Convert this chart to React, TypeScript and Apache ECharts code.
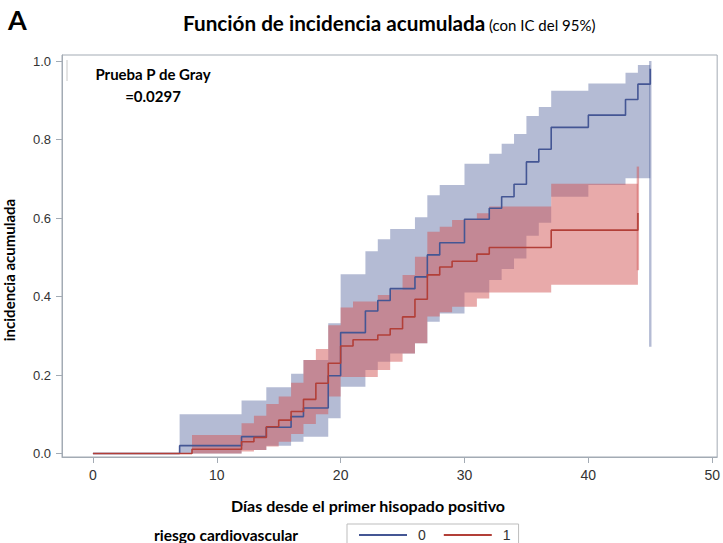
import React, { useEffect, useRef } from "react";
import * as echarts from "echarts";

// ---- axis ticks ----
const xTicks = [0, 10, 20, 30, 40, 50];
const yTicks = [0, 0.2, 0.4, 0.6, 0.8, 1.0];

// ---- group 0 (riesgo cardiovascular = 0) : cumulative incidence ----
const g0Days = [0, 7, 12, 14, 16, 17, 19, 20, 22, 23, 24, 26, 27, 28, 30, 32, 33, 34, 35, 36, 37, 40, 43, 44, 45];
const g0Cif = [0, 0.02, 0.043, 0.067, 0.094, 0.116, 0.198, 0.308, 0.363, 0.39, 0.42, 0.45, 0.506, 0.537, 0.597, 0.625, 0.654, 0.686, 0.743, 0.775, 0.831, 0.862, 0.902, 0.941, 0.98];
// 95% CI of group 0
const g0CiDays = [7, 12, 14, 16, 17, 19, 20, 22, 23, 24, 26, 27, 28, 30, 32, 33, 34, 35, 36, 37, 40, 43, 44];
const g0Upper = [0.1, 0.135, 0.169, 0.203, 0.238, 0.332, 0.457, 0.515, 0.546, 0.572, 0.602, 0.658, 0.684, 0.738, 0.764, 0.789, 0.814, 0.86, 0.883, 0.924, 0.943, 0.97, 0.99];
const g0Lower = [0, 0.009, 0.02, 0.03, 0.043, 0.09, 0.17, 0.213, 0.234, 0.255, 0.281, 0.336, 0.357, 0.41, 0.442, 0.47, 0.497, 0.555, 0.588, 0.654, 0.684, 0.701, 0.701];
const g0EndDay = 45;
const g0EndCi = [0.272, 1.0];

// ---- group 1 (riesgo cardiovascular = 1) ----
const g1Days = [0, 8, 12, 13, 14, 15, 16, 17, 18, 19, 20, 21, 23, 24, 25, 26, 27, 28, 29, 31, 32, 37, 44];
const g1Cif = [0, 0.011, 0.03, 0.041, 0.068, 0.085, 0.107, 0.138, 0.179, 0.23, 0.274, 0.29, 0.302, 0.318, 0.348, 0.393, 0.455, 0.475, 0.49, 0.508, 0.525, 0.569, 0.613];
const g1CiDays = [8, 12, 13, 14, 15, 16, 17, 18, 19, 20, 21, 23, 24, 25, 26, 27, 28, 29, 31, 32, 37];
const g1Upper = [0.047, 0.077, 0.096, 0.126, 0.145, 0.18, 0.238, 0.266, 0.327, 0.372, 0.387, 0.404, 0.417, 0.455, 0.501, 0.565, 0.578, 0.595, 0.612, 0.629, 0.687];
const g1Lower = [0, 0.005, 0.009, 0.018, 0.03, 0.05, 0.075, 0.1, 0.145, 0.195, 0.195, 0.213, 0.234, 0.255, 0.281, 0.349, 0.36, 0.374, 0.395, 0.41, 0.43];
const g1EndDay = 44;
const g1EndCi = [0.467, 0.731];

const groupNames = ["0", "1"];

const BLUE = "#445694";
const RED = "#B23F38";
const BLUE_BAND = "rgba(68,86,148,0.4)";
const RED_BAND = "rgba(210,85,85,0.5)";
const FRAME = "#A3ABB4";

function bandSeries(days: number[], upper: number[], lower: number[], endDay: number, endCi: number[], fill: string) {
  return {
    type: "custom",
    silent: true,
    z: 1,
    data: [[days[0], lower[0]]],
    renderItem: (_params: any, api: any) => {
      const pts: number[][] = [];
      for (let i = 0; i < days.length; i++) {
        const t1 = i + 1 < days.length ? days[i + 1] : endDay;
        pts.push(api.coord([days[i], upper[i]]), api.coord([t1, upper[i]]));
      }
      for (let i = days.length - 1; i >= 0; i--) {
        const t1 = i + 1 < days.length ? days[i + 1] : endDay;
        pts.push(api.coord([t1, lower[i]]), api.coord([days[i], lower[i]]));
      }
      const a = api.coord([endDay, endCi[0]]);
      const b = api.coord([endDay, endCi[1]]);
      return {
        type: "group",
        children: [
          { type: "polygon", shape: { points: pts }, style: { fill } },
          { type: "rect", shape: { x: a[0] - 1.2, y: b[1], width: 2.4, height: a[1] - b[1] }, style: { fill } },
        ],
      };
    },
  };
}

export default function App() {
  const ref = useRef<HTMLDivElement>(null);
  useEffect(() => {
    const chart = echarts.init(ref.current!, null, { renderer: "svg" });
    const tickFont = { fontFamily: "Liberation Sans, Arial, sans-serif", fontSize: 13, color: "#333" };
    const option: any = {
      animation: false,
      backgroundColor: "#fff",
      grid: { left: 62, right: 4, top: 55, bottom: 86, show: true, borderColor: FRAME, borderWidth: 1, backgroundColor: "transparent" },
      xAxis: {
        type: "value",
        min: -2.496,
        max: 50.4,
        axisLine: { show: true, onZero: false, lineStyle: { color: FRAME } },
        axisTick: { show: true, length: 6, lineStyle: { color: FRAME }, customValues: xTicks },
        axisLabel: { ...tickFont, fontSize: 14, margin: 11, customValues: xTicks, formatter: (v: number) => String(v) },
        splitLine: { show: false },
      },
      yAxis: {
        type: "value",
        min: -0.0089,
        max: 1.0153,
        axisLine: { show: true, onZero: false, lineStyle: { color: FRAME } },
        axisTick: { show: true, length: 6, lineStyle: { color: FRAME }, customValues: yTicks },
        axisLabel: { ...tickFont, margin: 11, customValues: yTicks, formatter: (v: number) => v.toFixed(1) },
        splitLine: { show: false },
      },
      legend: {
        data: groupNames,
        left: 347,
        top: 524,
        icon: "rect",
        itemWidth: 48,
        itemHeight: 2,
        itemGap: 18,
        padding: [4, 8, 10, 12],
        borderColor: "#BDBDBD",
        borderWidth: 1,
        textStyle: { fontFamily: "Liberation Sans, Arial, sans-serif", fontSize: 14, color: "#333", padding: [0, 0, 0, 6] },
      },
      series: [
        bandSeries(g0CiDays, g0Upper, g0Lower, g0EndDay, g0EndCi, BLUE_BAND),
        bandSeries(g1CiDays, g1Upper, g1Lower, g1EndDay, g1EndCi, RED_BAND),
        {
          name: groupNames[0],
          type: "line",
          step: "end",
          z: 3,
          showSymbol: false,
          color: BLUE,
          lineStyle: { color: BLUE, width: 1.6 },
          data: g0Days.map((d, i) => [d, g0Cif[i]]),
        },
        {
          name: groupNames[1],
          type: "line",
          step: "end",
          z: 4,
          showSymbol: false,
          color: RED,
          lineStyle: { color: RED, width: 1.6 },
          data: g1Days.map((d, i) => [d, g1Cif[i]]),
        },
      ],
      graphic: [
        { type: "text", left: 8, top: 6, style: { text: "A", font: "bold 27px Lato, sans-serif", fill: "#000" } },
        { type: "text", x: 183, y: 33, style: { text: "Función de incidencia acumulada", font: "bold 20.7px Lato, sans-serif", fill: "#000", textVerticalAlign: "bottom" } },
        { type: "text", x: 489, y: 32, style: { text: "(con IC del 95%)", font: "15px Lato, sans-serif", fill: "#000", textVerticalAlign: "bottom" } },
        { type: "line", shape: { x1: 67, y1: 60, x2: 67, y2: 81 }, style: { stroke: "#C8C8C8", lineWidth: 1 } },
        { type: "text", x: 153, y: 85, style: { text: "Prueba P de Gray\n=0.0297", font: "bold 15px Lato, sans-serif", fill: "#000", textAlign: "center", textVerticalAlign: "middle", lineHeight: 22 } },
        { type: "text", x: 9, y: 270, rotation: Math.PI / 2, style: { text: "incidencia acumulada", font: "bold 15px Lato, sans-serif", fill: "#000", textAlign: "center", textVerticalAlign: "middle" } },
        { type: "text", x: 368, y: 505, style: { text: "Días desde el primer hisopado positivo", font: "bold 16px Lato, sans-serif", fill: "#000", textAlign: "center", textVerticalAlign: "middle" } },
        { type: "text", x: 154, y: 535, style: { text: "riesgo cardiovascular", font: "bold 15.5px Lato, sans-serif", fill: "#000", textVerticalAlign: "middle" } },
      ],
    };
    chart.setOption(option);
    return () => chart.dispose();
  }, []);
  return <div ref={ref} style={{ position: "absolute", left: 0, top: 0, width: 723, height: 543 }} />;
}
